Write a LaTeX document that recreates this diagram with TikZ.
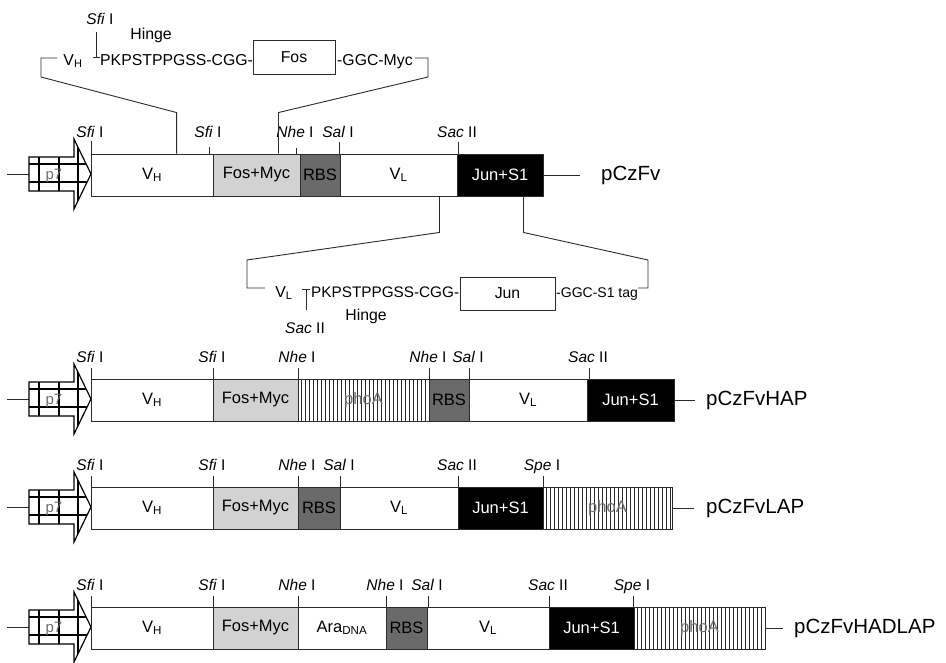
\documentclass[tikz,border=0pt]{standalone}
\usepackage{fontspec}
\setmainfont{Liberation Sans}
\usetikzlibrary{positioning,calc}
\definecolor{edge}{HTML}{2B2B2B}
\definecolor{fosgray}{HTML}{D2D2D2}
\definecolor{rbsgray}{HTML}{6A6A6A}
\definecolor{labgray}{HTML}{6E6E6E}
\tikzset{
  seg/.style={draw=edge,line width=0.9pt,minimum height=42pt,inner sep=0pt,font=\fontsize{16.5}{19}\selectfont},
  fosbox/.style={seg,fill=fosgray},
  rbsbox/.style={seg,fill=rbsgray},
  junbox/.style={seg,fill=black,text=white},
  phoabox/.style={seg,text=labgray,path picture={
      \foreach \k in {3,7,...,135}{\draw[edge,line width=0.7pt] ([xshift=\k pt]path picture bounding box.north west) -- ([xshift=\k pt]path picture bounding box.south west);}}},
  enz/.style={font=\fontsize{15.5}{18}\selectfont,inner sep=0pt,anchor=base},
  enztick/.style={draw=edge,line width=0.9pt},
  seq/.style={font=\fontsize{15.8}{18}\selectfont,inner sep=0pt},
  plab/.style={font=\fontsize{20.5}{24}\selectfont,inner sep=0pt,anchor=west},
  wire/.style={draw=edge,line width=0.9pt},
  linkbox/.style={draw=edge,line width=0.9pt,inner sep=0pt,font=\fontsize{15.8}{18}\selectfont},
  promo/.style={draw=black,line width=1.2pt,line join=miter}
}
\begin{document}
\begin{tikzpicture}[x=1pt,y=-1pt]
  \useasboundingbox (0,0) rectangle (946,662);
  % p7 promoter arrows
  \foreach \yc in {174,399,507,627}{
    \draw[wire] (7,\yc) -- (29,\yc);
    \begin{scope}
      \clip (29,\yc-17) -- (74,\yc-17) -- (74,\yc-35) -- (91,\yc) -- (74,\yc+35) -- (74,\yc+17) -- (29,\yc+17) -- cycle;
      \fill[white] (29,\yc-36) rectangle (92,\yc+36);
      \draw[line width=2pt] (39,\yc-40) -- (39,\yc+40) (59,\yc-40) -- (59,\yc+40) (78,\yc-40) -- (78,\yc+40)
        (20,\yc-10) -- (95,\yc-10) (20,\yc+8) -- (95,\yc+8);
    \end{scope}
    \draw[promo] (29,\yc-17) -- (74,\yc-17) -- (74,\yc-35) -- (91,\yc) -- (74,\yc+35) -- (74,\yc+17) -- (29,\yc+17) -- cycle;
    \node[font=\fontsize{15}{17}\selectfont,text=labgray,inner sep=0pt] (pz\yc) at (54,\yc+2) {p7};
  }
  % pCzFv
  \foreach \nm/\a/\b/\sty/\txt in {vhA/91/213/seg/{V\textsubscript{H}},fmA/213/300/fosbox/Fos+Myc,rbA/300/340/rbsbox/RBS,vlA/340/457/seg/{V\textsubscript{L}},jsA/457/543/junbox/Jun+S1}
    {\node[\sty,minimum width=\b-\a] (\nm) at ({(\a+\b)/2},175) {\txt};}
  \foreach \x/\len/\nm in {91/13/{\textit{Sfi} I},209/7/{\textit{Sfi} I},296/6/{\textit{Nhe} I},339/12/{\textit{Sal} I},458/12/{\textit{Sac} II}}
    {\draw[enztick] (\x,154) -- ++(0,-\len); \node[enz] (kA\x) at (\x-1,137) {\nm};}
  \node[plab] (pA) at (601,175) {pCzFv};
  \draw[wire,shorten >=21pt] (jsA.east) -- (pA.west);
  % Fos insert detail
  \node[seq,anchor=base] (tvh) at (73,65) {V\textsubscript{H}};
  \node[seq,anchor=base west] (tpk) at (100,65) {PKPSTPPGSS-CGG-};
  \node[linkbox,minimum width=82,minimum height=34] (tfos) at (294,57) {Fos};
  \node[seq,anchor=base west] (tmyc) at (337,65) {-GGC-Myc};
  \node[enz] (tsfi) at (100,24) {\textit{Sfi} I};
  \node[seq,anchor=base] (thinge) at (151,39) {Hinge};
  \draw[wire] (96,32) -- (96,57) (93,57) -- (100,57);
  \draw[wire] ([xshift=86pt]vhA.north west) -- ++(0,-41) -- (41,77) -- (41,58) -- (57,58);
  \draw[wire] ([xshift=-22pt]fmA.north east) -- ++(0,-41) -- (428,77) -- (428,58) -- (415,58);
  % Jun insert detail
  \draw[wire] ([xshift=-18pt]vlA.south east) -- ++(0,36) -- (247,260) -- (247,288) -- (265,288);
  \draw[wire] ([xshift=-20pt]jsA.south east) -- ++(0,36) -- (648,260) -- (648,288) -- (638,288);
  \node[seq,anchor=base] (tvl) at (284,297) {V\textsubscript{L}};
  \draw[wire] (302,289) -- (310,289) (306,289) -- (306,310);
  \node[seq,anchor=base west,font=\fontsize{15.3}{18}\selectfont] (tpk2) at (311,297) {PKPSTPPGSS-CGG-};
  \node[linkbox,minimum width=95,minimum height=33] (tjun) at (507.5,293.5) {Jun};
  \node[seq,anchor=base west,font=\fontsize{14}{17}\selectfont] (ttag) at (556,297) {-GGC-S1 tag};
  \node[seq,anchor=base] (thinge2) at (366,320) {Hinge};
  \node[enz] (tsac) at (305,333) {\textit{Sac} II};
  % pCzFvHAP
  \foreach \nm/\a/\b/\sty/\txt in {vhB/91/213/seg/{V\textsubscript{H}},fmB/213/298/fosbox/Fos+Myc,phB/298/429/phoabox/phoA,rbB/429/469/rbsbox/RBS,vlB/469/587/seg/{V\textsubscript{L}},jsB/587/674/junbox/Jun+S1}
    {\node[\sty,minimum width=\b-\a] (\nm) at ({(\a+\b)/2},400) {\txt};}
  \foreach \x/\len/\nm in {91/11/{\textit{Sfi} I},213/11/{\textit{Sfi} I},298/11/{\textit{Nhe} I},429/11/{\textit{Nhe} I},469/11/{\textit{Sal} I},589/11/{\textit{Sac} II}}
    {\draw[enztick] (\x,379) -- ++(0,-\len); \node[enz] (kB\x) at (\x-1,362) {\nm};}
  \node[plab] (pB) at (706,400) {pCzFvHAP};
  \draw[wire,shorten >=11pt] (jsB.east) -- (pB.west);
  % pCzFvLAP
  \foreach \nm/\a/\b/\sty/\txt in {vhC/91/213/seg/{V\textsubscript{H}},fmC/213/298/fosbox/Fos+Myc,rbC/298/340/rbsbox/RBS,vlC/340/458/seg/{V\textsubscript{L}},jsC/458/543/junbox/Jun+S1,phC/543/672/phoabox/phoA}
    {\node[\sty,minimum width=\b-\a] (\nm) at ({(\a+\b)/2},508) {\txt};}
  \foreach \x/\len/\nm in {91/11/{\textit{Sfi} I},213/11/{\textit{Sfi} I},298/11/{\textit{Nhe} I},340/11/{\textit{Sal} I},458/11/{\textit{Sac} II},543/11/{\textit{Spe} I}}
    {\draw[enztick] (\x,487) -- ++(0,-\len); \node[enz] (kC\x) at (\x-1,470) {\nm};}
  \node[plab] (pC) at (706,508) {pCzFvLAP};
  \draw[wire,shorten >=12pt] (phC.east) -- (pC.west);
  % pCzFvHADLAP
  \foreach \nm/\a/\b/\sty/\txt in {vhD/91/213/seg/{V\textsubscript{H}},fmD/213/298/fosbox/Fos+Myc,arD/298/386/seg/{Ara\textsubscript{DNA}},rbD/386/427/rbsbox/RBS,vlD/427/549/seg/{V\textsubscript{L}},jsD/549/634/junbox/Jun+S1,phD/634/765/phoabox/phoA}
    {\node[\sty,minimum width=\b-\a] (\nm) at ({(\a+\b)/2},628) {\txt};}
  \foreach \x/\len/\nm in {91/11/{\textit{Sfi} I},213/11/{\textit{Sfi} I},298/11/{\textit{Nhe} I},386/11/{\textit{Nhe} I},428/11/{\textit{Sal} I},549/11/{\textit{Sac} II},633/11/{\textit{Spe} I}}
    {\draw[enztick] (\x,607) -- ++(0,-\len); \node[enz] (kD\x) at (\x-1,590) {\nm};}
  \node[plab] (pD) at (794,628) {pCzFvHADLAP};
  \draw[wire,shorten >=11pt] (phD.east) -- (pD.west);
\end{tikzpicture}
\end{document}
